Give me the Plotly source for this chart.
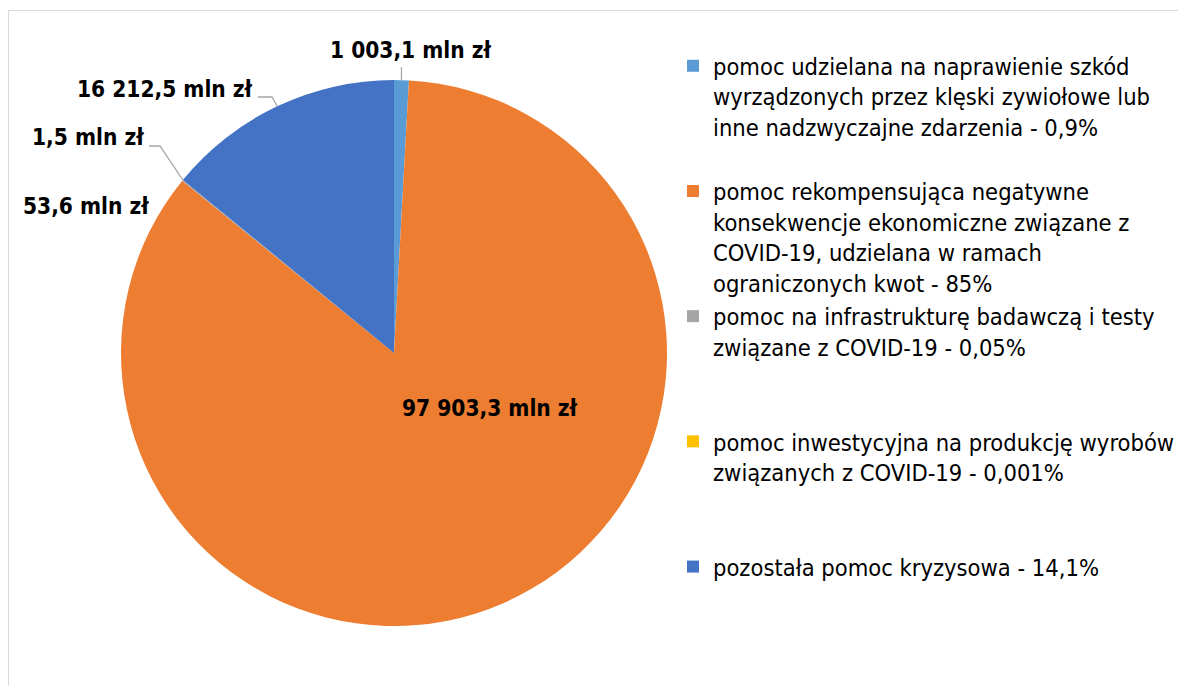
import math
import plotly.graph_objects as go

# ---- data ----
categories = [
    "pomoc udzielana na naprawienie szkód<br>wyrządzonych przez klęski zywiołowe lub<br>inne nadzwyczajne zdarzenia - 0,9%",
    "pomoc rekompensująca negatywne<br>konsekwencje ekonomiczne związane z<br>COVID-19, udzielana w ramach<br>ograniczonych kwot - 85%",
    "pomoc na infrastrukturę badawczą i testy<br>związane z COVID-19 - 0,05%",
    "pomoc inwestycyjna na produkcję wyrobów<br>związanych z COVID-19 - 0,001%",
    "pozostała pomoc kryzysowa - 14,1%",
]
values = [1003.1, 97903.3, 53.6, 1.5, 16212.5]
colors = ["#5B9BD5", "#ED7D31", "#A5A5A5", "#FFC000", "#4472C4"]

W, H = 1186, 686
OFF = 8  # page offset of the figure (body margin)
CX, CY, R = 394, 353, 273  # pie centre / radius in page pixels
FONT = "DejaVu Sans Condensed"


def fmt(v):
    s = f"{v:,.1f}"
    return s.replace(",", " ").replace(".", ",") + " mln zł"


def px(x):
    return (x - OFF) / W


def py(y):
    return 1 - (y - OFF) / H


# pad legend entries so each occupies the same number of lines
max_lines = 4
legend_labels = []
for c in categories:
    n = c.count("<br>") + 1
    legend_labels.append(c + "<br>&nbsp;" * (max_lines - n))

fig = go.Figure(
    go.Pie(
        labels=legend_labels,
        values=values,
        marker=dict(colors=colors, line=dict(width=0)),
        sort=False,
        direction="clockwise",
        rotation=0,
        textinfo="none",
        hoverinfo="label+value",
        domain=dict(x=[px(CX - R), px(CX + R)], y=[py(CY + R), py(CY - R)]),
    )
)

# slice mid angles from data
total = sum(values)
cum = 0
mids = []
for v in values:
    a0 = cum / total * 360
    cum += v
    a1 = cum / total * 360
    mids.append((a0 + a1) / 2)


def edge(angle_deg, r=R):
    a = math.radians(angle_deg)
    return CX + r * math.sin(a), CY - r * math.cos(a)


label_font = dict(family=FONT, size=22.5, color="#000000")
annotations = []
shapes = []

# label placements (text anchor page-pixel positions, optional leader elbow)
placements = [
    (410, 50, "center", None),
    (490, 408, "center", None),
    (151, 206, "right", None),
    (146, 137, "right", (149, 146, 160, 146)),
    (255, 89, "right", (258, 97, 272, 97)),
]
for i, (x, y, anchor, lead) in enumerate(placements):
    annotations.append(dict(
        x=px(x), y=py(y), xref="paper", yref="paper",
        text="<b>" + fmt(values[i]) + "</b>", showarrow=False,
        xanchor=anchor, yanchor="middle", font=label_font,
    ))
    if lead is not None:
        ex, ey = edge(mids[i])
        shapes.append(dict(
            type="path", xref="paper", yref="paper",
            path=f"M {px(lead[0])},{py(lead[1])} L {px(lead[2])},{py(lead[3])} L {px(ex)},{py(ey)}",
            line=dict(color="#A6A6A6", width=1.3),
        ))

# leader for the top slice (vertical)
tx, ty = edge(mids[0])
shapes.append(dict(
    type="line", xref="paper", yref="paper",
    x0=px(tx), y0=py(67), x1=px(tx), y1=py(ty),
    line=dict(color="#A6A6A6", width=1.3),
))

# chart frame
shapes.append(dict(
    type="rect", xref="paper", yref="paper",
    x0=px(8.5), y0=-0.05, x1=1.05, y1=py(10.5),
    line=dict(color="#D9D9D9", width=1), layer="below",
))

fig.update_layout(
    width=W, height=H,
    margin=dict(l=0, r=0, t=0, b=0),
    paper_bgcolor="white",
    plot_bgcolor="white",
    showlegend=True,
    legend=dict(
        x=px(673), y=py(44), xanchor="left", yanchor="top",
        font=dict(family=FONT, size=23.5, color="#000000"),
        valign="top", itemwidth=30, traceorder="normal",
        bgcolor="rgba(0,0,0,0)",
    ),
    annotations=annotations,
    shapes=shapes,
)

fig.write_html("out.html")
